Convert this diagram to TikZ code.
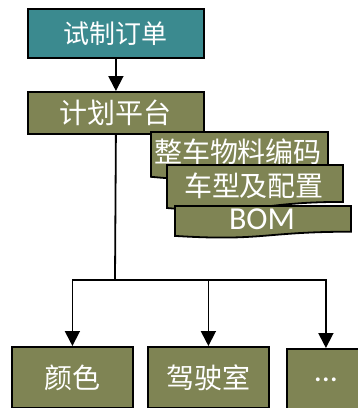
\documentclass[tikz,border=0pt]{standalone}
\usepackage{fontspec}
\setmainfont{Carlito}
\newfontfamily\cjk{Noto Sans CJK SC}
\usetikzlibrary{arrows.meta}
\definecolor{teal1}{HTML}{3B8A8F}
\definecolor{olive1}{HTML}{7F8454}
\begin{document}
\begin{tikzpicture}[x=1pt,y=-1pt,
 box/.style={draw=black,line width=1.8pt,fill=olive1,text=white,inner sep=0pt,anchor=north west},
 docbox/.style={draw=black,line width=1.8pt,fill=olive1},
 lbl/.style={text=white,inner sep=0pt},
 big/.style={font=\cjk\fontsize{28}{28}\selectfont},
 conn/.style={line width=1.8pt,-{Triangle[width=15pt,length=15pt]}},
 trunk/.style={line width=1.8pt}
]
\fill[white] (0,0) rectangle (358,408);
\useasboundingbox (0,0) rectangle (358,408);
\node[box,fill=teal1,minimum width=176pt,minimum height=49pt,font=\cjk\fontsize{26}{26}\selectfont] (order) at (27,8) {试制订单};
\node[box,minimum width=176pt,minimum height=42pt,big] (plat) at (27,91) {计划平台};
% document shapes
\draw[docbox] (151,132) -- (328,132) -- (328,170.5) .. controls (239.5,170.5) and (239.5,185.2) .. (151,176.8) -- cycle;
\node[lbl,big] (mat) at (238,152) {整车物料编码};
\draw[docbox] (167,165) -- (343,165) -- (343,201.9) .. controls (255,201.9) and (255,215.9) .. (167,208) -- cycle;
\node[lbl,big] (cfg) at (254,186) {车型及配置};
\draw[docbox] (175,206) -- (351,206) -- (351,231.7) .. controls (263,231.7) and (263,241.4) .. (175,235.9) -- cycle;
\node[lbl,font=\fontsize{32}{32}\selectfont] (bom) at (262,219) {BOM};
% bottom boxes
\node[box,minimum width=121pt,minimum height=61pt,big] (color) at (11,346) {颜色};
\node[box,minimum width=121pt,minimum height=61pt,big] (cab) at (147,346) {驾驶室};
\node[box,minimum width=78pt,minimum height=62pt,font=\fontsize{32}{32}\selectfont] (more) at (286,348) {...};
% connectors
\draw[conn] (order) -- (plat);
\coordinate (j) at (115,280);
\draw[trunk] (plat.south) -- (j);
\draw[conn] (j) -| (color);
\draw[conn] (j) -| (cab);
\draw[conn] (j) -| (more);
\end{tikzpicture}
\end{document}
